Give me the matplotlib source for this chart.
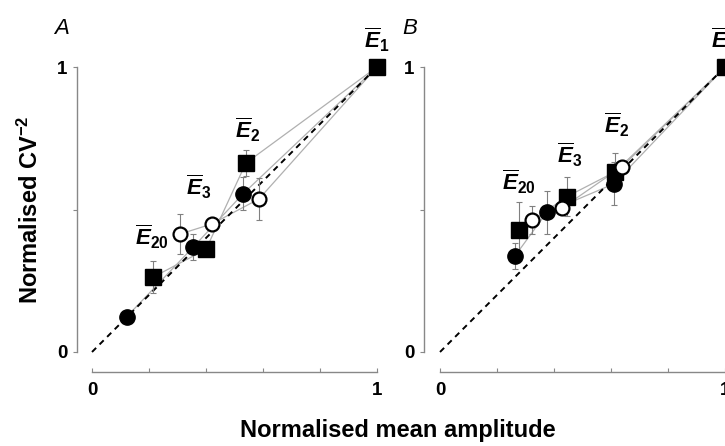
import matplotlib
matplotlib.use("Agg")
import matplotlib.pyplot as plt

plt.rcParams['font.family'] = ['Liberation Sans', 'DejaVu Sans']
plt.rcParams['mathtext.fontset'] = 'custom'
plt.rcParams['mathtext.it'] = 'Liberation Sans:italic:bold'
plt.rcParams['mathtext.rm'] = 'Liberation Sans:bold'
plt.rcParams['mathtext.bf'] = 'Liberation Sans:bold'

# ---- data (order: E1, E2, E3, E20) ----
A_sq_x = [1.0, 0.54, 0.40, 0.215]
A_sq_y = [1.0, 0.663, 0.36, 0.263]
A_sq_e = [0.0, 0.045, 0.02, 0.055]
A_fc_x = [1.0, 0.53, 0.355, 0.122]
A_fc_y = [1.0, 0.555, 0.368, 0.124]
A_fc_e = [0.0, 0.058, 0.045, 0.0]
A_oc_x = [1.0, 0.586, 0.42, 0.309]
A_oc_y = [1.0, 0.537, 0.449, 0.414]
A_oc_e = [0.0, 0.075, 0.02, 0.07]

B_sq_x = [1.0, 0.614, 0.445, 0.277]
B_sq_y = [1.0, 0.632, 0.545, 0.428]
B_sq_e = [0.0, 0.065, 0.068, 0.1]
B_fc_x = [1.0, 0.61, 0.375, 0.263]
B_fc_y = [1.0, 0.59, 0.49, 0.337]
B_fc_e = [0.0, 0.075, 0.076, 0.045]
B_oc_x = [1.0, 0.638, 0.428, 0.323]
B_oc_y = [1.0, 0.65, 0.505, 0.463]
B_oc_e = [0.0, 0.02, 0.02, 0.05]

label_texts = [r'$\overline{E}_{1}$', r'$\overline{E}_{2}$', r'$\overline{E}_{3}$', r'$\overline{E}_{20}$']
A_lab_x = [1.0, 0.547, 0.375, 0.21]
A_lab_y = [1.095, 0.779, 0.579, 0.404]
B_lab_x = [0.996, 0.621, 0.453, 0.277]
B_lab_y = [1.095, 0.796, 0.691, 0.596]

W, H = 725, 446
fig = plt.figure(figsize=(W / 100, H / 100), dpi=100)

scale = 285.0


def make_axes(left_px, x0_px, spine_x_px):
    right_px = left_px + 325
    top_px, bot_px = 40, 380
    y0_px = 352
    ax = fig.add_axes([left_px / W, (H - bot_px) / H, 325 / W, (bot_px - top_px) / H])
    ax.set_xlim((left_px - x0_px) / scale, (right_px - x0_px) / scale)
    ax.set_ylim((y0_px - bot_px) / scale, (y0_px - top_px) / scale)
    for s in ['top', 'right']:
        ax.spines[s].set_visible(False)
    ax.spines['left'].set_position(('data', (spine_x_px - x0_px) / scale))
    ax.spines['bottom'].set_position(('data', (y0_px - 372) / scale))
    ax.spines['left'].set_bounds(0, 1)
    ax.spines['bottom'].set_bounds(0, 1)
    for s in ['left', 'bottom']:
        ax.spines[s].set_color('#888888')
        ax.spines[s].set_linewidth(1.0)
    ax.set_xticks([0, 0.2, 0.4, 0.6, 0.8, 1.0])
    ax.set_xticklabels(['0', '', '', '', '', '1'])
    ax.set_yticks([0, 0.5, 1.0])
    ax.set_yticklabels(['0', '', '1'])
    ax.tick_params(axis='x', direction='in', length=3, color='#888888', pad=7,
                   labelsize=13.5)
    ax.tick_params(axis='y', direction='out', length=3, color='#888888', pad=4,
                   labelsize=13.5)
    for t in ax.get_xticklabels() + ax.get_yticklabels():
        t.set_fontweight('bold')
    ax.patch.set_alpha(0)
    return ax


def draw_panel(ax, series, lab_x, lab_y):
    ax.plot([0, 1], [0, 1], ls=(0, (3, 2.5)), color='black', lw=1.4, zorder=2)
    for (xs, ys, es, kind) in series:
        ax.plot(xs, ys, color='#b0b0b0', lw=0.9, zorder=1)
    for (xs, ys, es, kind) in series:
        ax.errorbar(xs[1:], ys[1:], yerr=es[1:], fmt='none', ecolor='#808080',
                    elinewidth=0.8, capsize=2, capthick=0.8, zorder=3)
    for (xs, ys, es, kind) in series:
        if kind == 'sq':
            ax.plot(xs[1:], ys[1:], 's', ms=11, mfc='black', mec='black', zorder=4)
        elif kind == 'fc':
            ax.plot(xs[1:], ys[1:], 'o', ms=11, mfc='black', mec='black', zorder=4)
        else:
            ax.plot(xs[1:], ys[1:], 'o', ms=10, mfc='white', mec='black', mew=1.6, zorder=5)
    ax.plot([series[0][0][0]], [series[0][1][0]], 's', ms=12, mfc='black', mec='black',
            zorder=6, clip_on=False)
    for t, x, y in zip(label_texts, lab_x, lab_y):
        ax.text(x, y, t, ha='center', va='center', fontsize=16, zorder=7, clip_on=False)


axA = make_axes(70, 92, 77)
draw_panel(axA, [(A_sq_x, A_sq_y, A_sq_e, 'sq'), (A_fc_x, A_fc_y, A_fc_e, 'fc'),
                 (A_oc_x, A_oc_y, A_oc_e, 'oc')], A_lab_x, A_lab_y)
axB = make_axes(418, 440, 424)
draw_panel(axB, [(B_sq_x, B_sq_y, B_sq_e, 'sq'), (B_fc_x, B_fc_y, B_fc_e, 'fc'),
                 (B_oc_x, B_oc_y, B_oc_e, 'oc')], B_lab_x, B_lab_y)

fig.text(62 / W, 1 - 28 / H, 'A', style='italic', fontsize=16, ha='center', va='center')
fig.text(410 / W, 1 - 28 / H, 'B', style='italic', fontsize=16, ha='center', va='center')

fig.text(398 / W, 1 - 430 / H, 'Normalised mean amplitude', fontsize=17, fontweight='bold',
         ha='center', va='center')
fig.text(30 / W, 1 - 210 / H, r'Normalised CV$^{-2}$', fontsize=17, fontweight='bold',
         ha='center', va='center', rotation=90)

fig.savefig('out.png', dpi=100)
